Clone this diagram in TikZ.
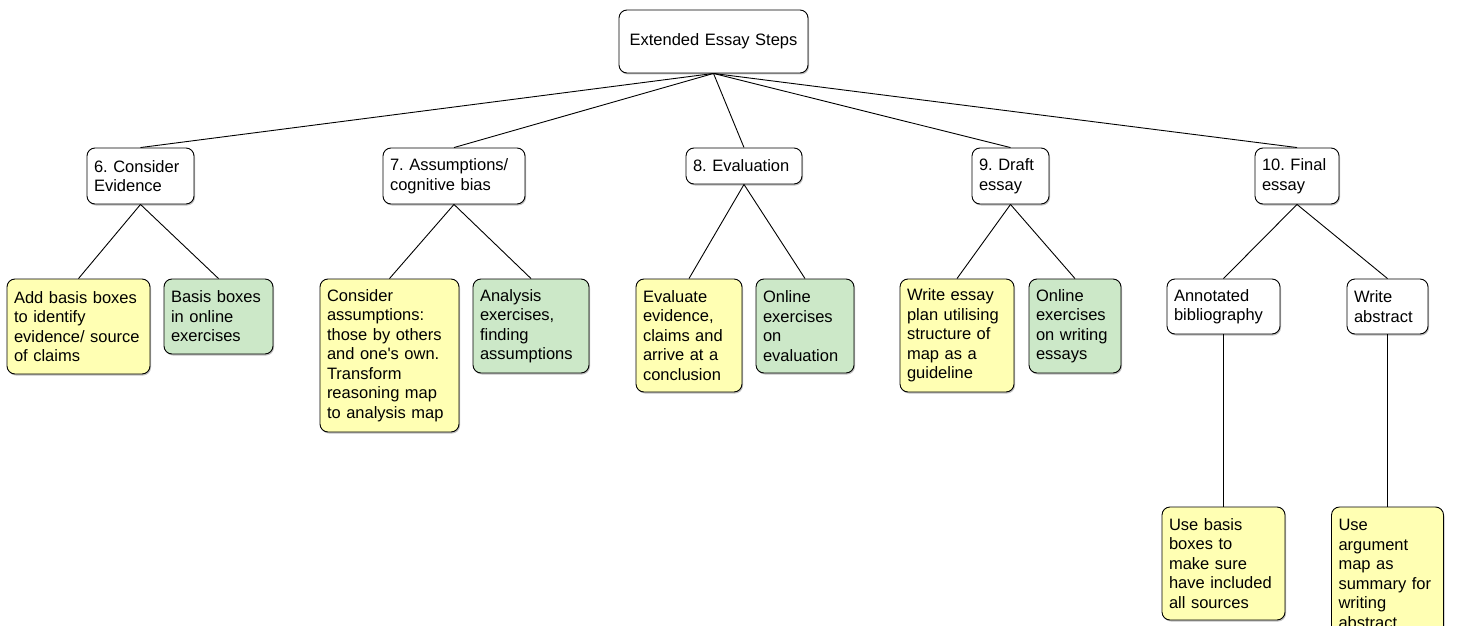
\documentclass[tikz,border=0pt]{standalone}
\usepackage{fontspec}
\setmainfont{Liberation Sans}
\usetikzlibrary{shadows}
\definecolor{ybg}{RGB}{255,255,179}
\definecolor{gbg}{RGB}{204,232,200}
\tikzset{
  base/.style={draw=black, line width=0.9pt, rounded corners=8pt,
    inner xsep=7pt, inner ysep=4pt, align=left,
    font=\fontsize{16.5}{19.5}\selectfont\frenchspacing,
    drop shadow={shadow xshift=1pt, shadow yshift=-1.5pt, opacity=0.35, fill=black!70}},
  wbox/.style={base, fill=white},
  ybox/.style={base, fill=ybg},
  gbox/.style={base, fill=gbg},
  link/.style={draw=black, line width=0.9pt}
}
\newcommand{\bx}[6]{% style, name, x, y, w, h ... text given after
  \node[#1, minimum width=#5pt, minimum height=#6pt, text width=#5pt-14pt] (#2) at (#3,#4)}
\begin{document}
\begin{tikzpicture}[x=1pt,y=-1pt]
\useasboundingbox (0,0) rectangle (1457,626);
% root
\node[wbox, align=center, minimum width=189pt, minimum height=63pt, text width=169pt] (root) at (713.5,41.5) {Extended Essay Steps};
% level 1
\bx{wbox}{n6}{140.5}{176}{107}{56} {6. Consider\\Evidence};
\bx{wbox}{n7}{454}{176}{142}{56} {7. Assumptions/\\cognitive bias};
\bx{wbox}{n8}{744}{166}{116}{36} {8. Evaluation};
\bx{wbox}{n9}{1010.5}{176}{77}{56} {9. Draft\\essay};
\bx{wbox}{n10}{1297}{176}{84}{56} {10. Final\\essay};
% level 2
\bx{ybox}{a6}{78.5}{326.5}{143}{95} {Add basis boxes\\to identify\\evidence/ source\\of claims};
\bx{gbox}{b6}{218.5}{316.5}{109}{75} {Basis boxes\\in online\\exercises};
\bx{ybox}{a7}{389.5}{355.5}{139}{153} {Consider\\assumptions:\\those by others\\and one\textquotesingle s own.\\Transform\\reasoning map\\to analysis map};
\bx{gbox}{b7}{531}{326}{116}{94} {Analysis\\exercises,\\finding\\assumptions};
\bx{ybox}{a8}{689}{335.5}{106}{113} {Evaluate\\evidence,\\claims and\\arrive at a\\conclusion};
\bx{gbox}{b8}{805}{326}{98}{94} {Online\\exercises\\on\\evaluation};
\bx{ybox}{a9}{957}{335.5}{114}{113} {Write essay\\plan utilising\\structure of\\map as a\\guideline};
\bx{gbox}{b9}{1075}{326}{92}{94} {Online\\exercises\\on writing\\essays};
\bx{wbox}{a10}{1223.5}{306.5}{113}{55} {Annotated\\bibliography};
\bx{wbox}{b10}{1387.5}{306.5}{81}{55} {Write\\abstract};
% level 3
\bx{ybox}{c10}{1223.5}{563.5}{123}{113} {Use basis\\boxes to\\make sure\\have included\\all sources};
\bx{ybox}{d10}{1387.5}{574}{112}{134} {Use\\argument\\map as\\summary for\\writing\\abstract};
% connectors
\foreach \c in {n6,n7,n8,n9,n10} \draw[link] (root.south) -- (\c.north);
\draw[link] (n6.south) -- (a6.north);
\draw[link] (n6.south) -- (b6.north);
\draw[link] (n7.south) -- (a7.north);
\draw[link] (n7.south) -- (b7.north);
\draw[link] (n8.south) -- (a8.north);
\draw[link] (n8.south) -- (b8.north);
\draw[link] (n9.south) -- (a9.north);
\draw[link] (n9.south) -- (b9.north);
\draw[link] (n10.south) -- (a10.north);
\draw[link] (n10.south) -- (b10.north);
\draw[link] (a10.south) -- (c10.north);
\draw[link] (b10.south) -- (d10.north);
\end{tikzpicture}
\end{document}
